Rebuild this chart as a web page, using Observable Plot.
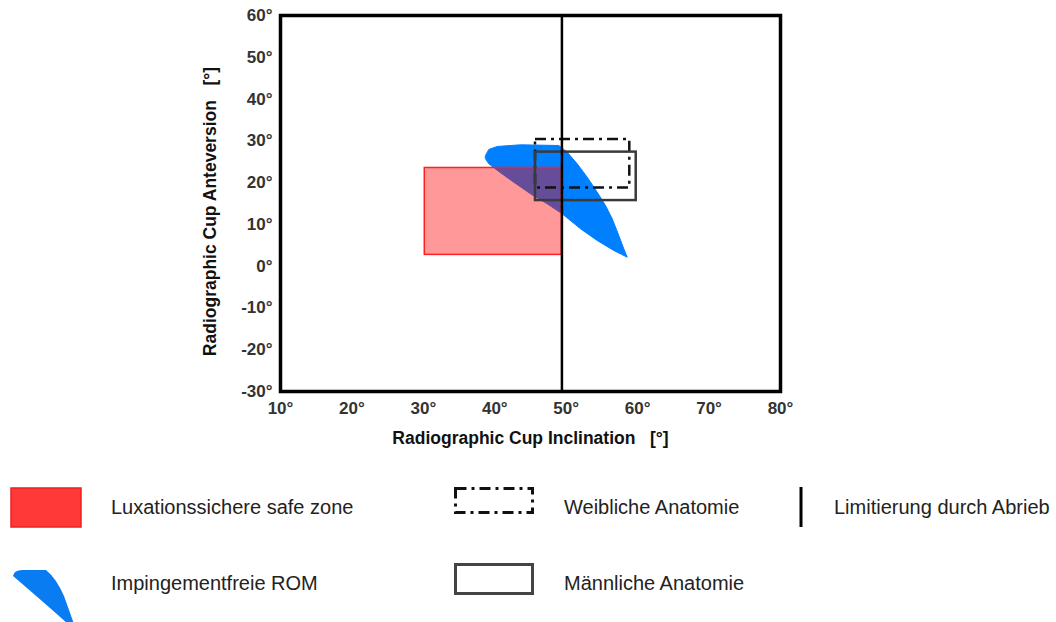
<!DOCTYPE html>
<html>
<head>
<meta charset="utf-8">
<script src="https://cdn.jsdelivr.net/npm/d3@7"></script>
<script src="https://cdn.jsdelivr.net/npm/@observablehq/plot@0.6"></script>
<style>
  html, body { margin: 0; padding: 0; background: #fff; }
  #wrap { position: relative; width: 1056px; height: 622px; overflow: hidden; font-family: Arial, "Liberation Sans", sans-serif; }
  #chart { position: absolute; left: 0; top: 0; }
  .lg { position: absolute; font-size: 20px; color: #222; white-space: nowrap; line-height: 1; }
  .ic { position: absolute; overflow: visible; }
</style>
</head>
<body>
<div id="wrap">
  <div id="chart"></div>
</div>
<script>
// ---- data ----
const xTicks = [10, 20, 30, 40, 50, 60, 70, 80];
const yTicks = [-30, -20, -10, 0, 10, 20, 30, 40, 50, 60];
const xLabel = "Radiographic Cup Inclination   [°]";
const yLabel = "Radiographic Cup Anteversion   [°]";

// Luxationssichere safe zone
const safeZoneInclination = [30.2, 49.4];
const safeZoneAnteversion = [2.7, 23.5];
// Weibliche Anatomie
const femaleInclination = [45.7, 58.9];
const femaleAnteversion = [18.7, 30.3];
// Männliche Anatomie
const maleInclination = [45.7, 59.8];
const maleAnteversion = [15.7, 27.3];
// Limitierung durch Abrieb
const wearLimitInclination = [49.4];
// Impingementfreie ROM (outline)
const romInclination = [38.7, 39.16, 40.34, 43.6, 48.96, 50.14, 51.54, 52.94, 54.34, 55.5, 56.44, 57.36, 58.06, 58.54, 56.66, 54.34, 52.0, 49.44, 47.34, 45.0, 42.66, 40.8, 39.16, 38.7];
const romAnteversion = [26.49, 27.93, 28.65, 29.05, 28.88, 27.28, 24.5, 21.3, 17.71, 14.52, 11.34, 7.34, 4.16, 2.15, 3.75, 6.15, 8.95, 12.54, 14.93, 17.32, 20.1, 22.35, 24.5, 25.7];

const legendItems = [
  "Luxationssichere safe zone",
  "Weibliche Anatomie",
  "Limitierung durch Abrieb",
  "Impingementfreie ROM",
  "Männliche Anatomie"
];

// ---- build tables ----
const rom = romInclination.map((x, i) => ({x, y: romAnteversion[i]}));
const safe = [{x1: safeZoneInclination[0], x2: safeZoneInclination[1], y1: safeZoneAnteversion[0], y2: safeZoneAnteversion[1]}];
const female = [{x1: femaleInclination[0], x2: femaleInclination[1], y1: femaleAnteversion[0], y2: femaleAnteversion[1]}];
const male = [{x1: maleInclination[0], x2: maleInclination[1], y1: maleAnteversion[0], y2: maleAnteversion[1]}];

const chart = Plot.plot({
  width: 1056,
  height: 460,
  marginLeft: 280,
  marginRight: 276,
  marginTop: 15,
  marginBottom: 69,
  style: {fontFamily: "Arial, 'Liberation Sans', sans-serif", background: "white", color: "#222"},
  x: {domain: [10, 80], ticks: xTicks, tickFormat: d => `${d}°`},
  y: {domain: [-30, 60], ticks: yTicks, tickFormat: d => `${d}°`},
  marks: [
    Plot.line(rom, {x: "x", y: "y", curve: "linear-closed", fill: "#0080ff", stroke: "#0080ff", strokeWidth: 1}),
    Plot.rect(safe, {x1: "x1", x2: "x2", y1: "y1", y2: "y2", fill: "#ff0000", fillOpacity: 0.4, stroke: "#ff2020", strokeWidth: 1.5}),
    Plot.rect(female, {x1: "x1", x2: "x2", y1: "y1", y2: "y2", fill: "none", stroke: "#111", strokeWidth: 2.5, strokeDasharray: "11,5,3,5"}),
    Plot.rect(male, {x1: "x1", x2: "x2", y1: "y1", y2: "y2", fill: "none", stroke: "#3a3a3a", strokeWidth: 2.5}),
    Plot.ruleX(wearLimitInclination, {stroke: "#000", strokeWidth: 2.5}),
    Plot.frame({stroke: "#000", strokeWidth: 3.5}),
    Plot.axisX({ticks: xTicks, tickFormat: d => `${d}°`, tickSize: 0, tickPadding: 10, fontSize: 17, fontWeight: "bold", fill: "#333",
      label: xLabel, labelAnchor: "center", labelArrow: "none", labelOffset: 52}),
    Plot.axisY({ticks: yTicks, tickFormat: d => `${d}°`, tickSize: 0, tickPadding: 8, fontSize: 17, fontWeight: "bold", fill: "#333",
      label: yLabel, labelAnchor: "center", labelArrow: "none", labelOffset: 77})
  ]
});
document.getElementById("chart").appendChild(chart);

// style axis labels (bold, larger)
chart.querySelectorAll("g[aria-label='x-axis label'] text, g[aria-label='y-axis label'] text").forEach(t => {
  t.setAttribute("font-size", "17.5");
  t.setAttribute("font-weight", "bold");
  t.setAttribute("fill", "#111");
});
chart.querySelectorAll("g[aria-label='y-axis label'] text").forEach(t => {
  t.setAttribute("dx", "-8");
});

// ---- legend (HTML below the SVG) ----
const wrap = document.getElementById("wrap");
const ns = "http://www.w3.org/2000/svg";
function icon(left, top, w, h, inner) {
  const s = document.createElementNS(ns, "svg");
  s.setAttribute("class", "ic");
  s.setAttribute("width", w); s.setAttribute("height", h);
  s.style.left = left + "px"; s.style.top = top + "px";
  s.innerHTML = inner;
  wrap.appendChild(s);
}
function label(text, left, centerY) {
  const d = document.createElement("div");
  d.className = "lg";
  d.textContent = text;
  d.style.left = left + "px";
  d.style.top = (centerY - 10) + "px";
  wrap.appendChild(d);
}
icon(10, 487, 72, 41, '<rect x="1" y="1" width="70" height="39" fill="#ff3838" stroke="#ee2020" stroke-width="1.5"/>');
label(legendItems[0], 111, 507);
icon(453, 486, 84, 30, '<rect x="2.5" y="2.5" width="77" height="24" fill="none" stroke="#111" stroke-width="3" stroke-dasharray="11,5,3,5"/>');
label(legendItems[1], 564, 507);
icon(798, 486, 6, 43, '<line x1="3" y1="1" x2="3" y2="41" stroke="#000" stroke-width="3"/>');
label(legendItems[2], 834, 507);
icon(8, 566, 70, 56, '<path d="M5,10 Q6,4 14,4 L38,4 Q48,12 56,30 L66,58 L60,58 Q40,40 5,10 Z" fill="#0a7cf2"/>');
label(legendItems[3], 111, 583);
icon(453, 562, 84, 34, '<rect x="2.5" y="2.5" width="77" height="29" fill="none" stroke="#444" stroke-width="3"/>');
label(legendItems[4], 564, 583);
</script>
</body>
</html>
